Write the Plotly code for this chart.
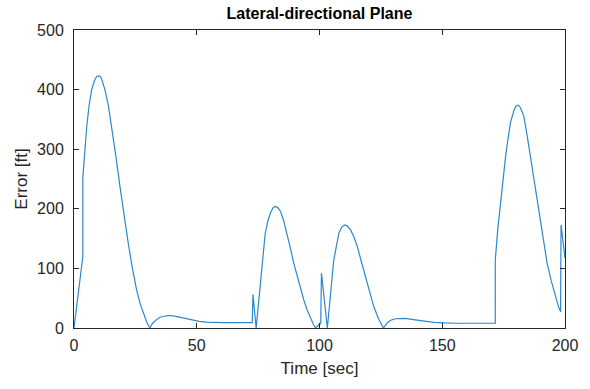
import plotly.graph_objects as go

time_sec = [0, 3.6, 3.6, 4.5, 5.2, 6.2, 7.2, 8.5, 9.3, 10.0, 10.7, 11.3, 12.6, 14.0, 15.3, 17.0,
            18.7, 20.4, 22.1, 23.8, 25.5, 27.0, 28.2, 29.6, 30.9,
            32.0, 33.6, 35.0, 37.6, 39.0, 41.0, 43.0, 46.0, 48.6, 51.0, 54.0, 60.0, 72.6,
            72.9, 74.2,
            75.9, 76.9, 77.9, 79.0, 80.0, 81.0, 81.8, 83.0, 84.1, 85.4, 86.8, 88.1, 89.5,
            91.5, 93.6, 95.0, 96.3, 97.4, 98.4, 99.8, 100.5,
            100.8, 103.2,
            105.8, 106.9, 107.9, 109.0, 110.2, 111.4, 112.6, 114.0, 115.4, 117.0, 118.7,
            120.4, 122.1, 124.0, 126.0,
            127.5, 129.0, 131.0, 133.0, 135.0, 137.5, 139.8, 143.0, 146.6, 151.0, 156.0, 171.6,
            171.6, 172.6, 173.7, 174.8, 175.8, 176.8, 177.8, 179.2, 180.0, 180.8, 181.5, 182.0, 183.2,
            184.5, 185.9, 187.6, 189.3, 191.0, 192.7, 194.4, 196.1, 197.2, 198.2,
            198.4, 200.0]
error_ft = [0, 120, 252, 300, 339, 375, 400, 417, 422, 423, 422, 417, 400, 373, 339, 290,
            238, 188, 142, 100, 64, 40, 25, 10, 0,
            8, 14, 18, 20.5, 21, 20, 18, 15, 12.5, 11, 9.8, 9, 9,
            56, 0,
            75, 118, 159, 180, 193, 201, 204, 202, 196, 180, 159, 135, 109,
            78, 47, 30, 16, 7, 0, 5, 8,
            92, 0,
            114, 139, 159, 169, 173, 171, 165, 153, 137, 112, 86,
            60, 36, 16, 0,
            8, 13, 15.5, 16.3, 16, 14.5, 13, 11, 9.5, 8.5, 8, 8,
            114, 165, 210, 252, 288, 318, 345, 365, 372, 374, 372, 368, 356,
            325, 288, 240, 193, 150, 109, 79, 53, 38, 27,
            173, 117]

x_ticks = [0, 50, 100, 150, 200]
y_ticks = [0, 100, 200, 300, 400, 500]

axis_color = "#262626"
font_family = "Liberation Sans, Arial, sans-serif"

fig = go.Figure()
fig.add_trace(go.Scatter(x=time_sec, y=error_ft, mode="lines",
                         line=dict(color="#2C88CE", width=1.2),
                         showlegend=False, hoverinfo="skip"))

axis_common = dict(showgrid=False, zeroline=False, showline=True, linecolor=axis_color,
                   linewidth=1, mirror="ticks", ticks="inside", ticklen=5,
                   tickcolor=axis_color, tickwidth=1,
                   tickfont=dict(family=font_family, size=16, color=axis_color))

fig.update_layout(
    width=590, height=389,
    margin=dict(l=74, r=25, t=30, b=61),
    paper_bgcolor="white", plot_bgcolor="white",
    title=dict(text="<b>Lateral-directional Plane</b>", x=(74 + 565) / 2 / 590, xanchor="center",
               y=1 - 13 / 389, yanchor="middle",
               font=dict(family=font_family, size=16, color="black")),
    xaxis=dict(range=[0, 200], tickvals=x_ticks, ticklabelstandoff=3,
               title=dict(text="Time [sec]", standoff=8,
                          font=dict(family=font_family, size=17, color=axis_color)),
               **axis_common),
    yaxis=dict(range=[0, 500], tickvals=y_ticks, ticklabelstandoff=6,
               title=dict(text="Error [ft]", standoff=5,
                          font=dict(family=font_family, size=17, color=axis_color)),
               **axis_common),
)

fig.write_html("out.html")
